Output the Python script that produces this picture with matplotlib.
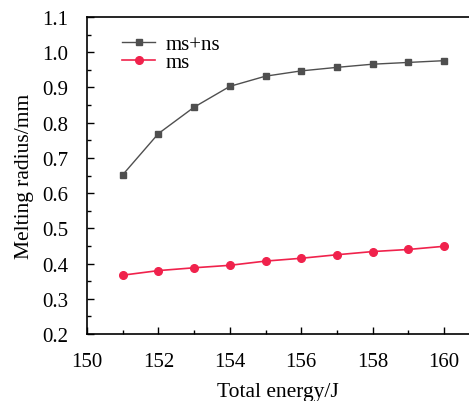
import numpy as np
import matplotlib
matplotlib.use('Agg')
import matplotlib.pyplot as plt
from matplotlib.ticker import MultipleLocator, FormatStrFormatter

energy = [151, 152, 153, 154, 155, 156, 157, 158, 159, 160]
ms_ns = [0.652, 0.769, 0.844, 0.903, 0.932, 0.947, 0.957, 0.966, 0.971, 0.976]
ms = [0.367, 0.380, 0.388, 0.395, 0.407, 0.415, 0.425, 0.434, 0.440, 0.449]

plt.rcParams['font.family'] = ['Liberation Serif', 'DejaVu Serif']
plt.rcParams['mathtext.fontset'] = 'stix'

fig = plt.figure(figsize=(4.69, 4.02), dpi=100)
ax = fig.add_axes([87 / 469, 1 - 335 / 402, 1 - 87 / 469, 317 / 402])

ax.plot(energy, ms_ns, color='#4f4f4f', marker='s', markersize=5, lw=1.0, label='ms+ns')
ax.plot(energy, ms, color='#f0224c', marker='o', markersize=5.5, lw=1.2, label='ms')

ax.set_xlim(150, 160.7)
ax.set_ylim(0.2, 1.1)
ax.xaxis.set_major_locator(MultipleLocator(2))
ax.xaxis.set_minor_locator(MultipleLocator(1))
ax.yaxis.set_major_locator(MultipleLocator(0.1))
ax.yaxis.set_minor_locator(MultipleLocator(0.05))
ax.xaxis.set_major_formatter(FormatStrFormatter('%d'))
ax.yaxis.set_major_formatter(FormatStrFormatter('%.1f'))
ax.tick_params(which='both', direction='in', top=False, right=False, labelsize=15)
ax.tick_params(which='major', length=5, width=1)
ax.tick_params(which='minor', length=3, width=1)
ax.tick_params(axis='x', pad=13)
ax.tick_params(axis='y', pad=13.5)
for lab in ax.get_xticklabels() + ax.get_yticklabels():
    lab.set_fontfamily('Liberation Serif')
ax.spines['right'].set_visible(False)
for s in ['left', 'bottom', 'top']:
    ax.spines[s].set_linewidth(1.2)

ax.set_xlabel('Total energy/J', fontsize=15.5, labelpad=8)
ax.set_ylabel('Melting radius/mm', fontsize=15.5, labelpad=6)

ax.legend(loc='upper left', frameon=False, fontsize=15, handlelength=1.6,
          handletextpad=0.5, labelspacing=-0.08, borderaxespad=0.0,
          bbox_to_anchor=(0.07, 0.97))

fig.savefig('out.png', dpi=100)
